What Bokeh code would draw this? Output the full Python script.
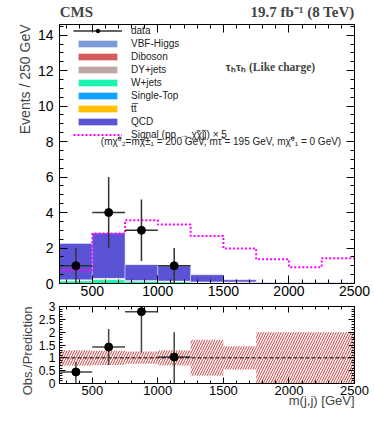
from bokeh.plotting import figure
from bokeh.models import (Range1d, LinearAxis, FixedTicker, Label, Legend, LegendItem,
                          Span, PrintfTickFormatter, Title, Spacer)
from bokeh.layouts import column, row
from bokeh.embed import file_html
from bokeh.resources import INLINE

# ---------------- data ----------------
bin_lo = [250, 500, 750, 1000, 1250, 1500, 1750, 2000, 2250]
bin_hi = [500, 750, 1000, 1250, 1500, 1750, 2000, 2250, 2500]

# backgrounds (stacked, bottom -> top)
wjets     = [0.15, 0.22, 0.14, 0.10, 0.07, 0.03, 0.00, 0.00, 0.00]
diboson   = [0.02, 0.02, 0.01, 0.02, 0.02, 0.06, 0.01, 0.01, 0.01]
dyjets    = [0.02, 0.02, 0.01, 0.01, 0.00, 0.00, 0.00, 0.00, 0.00]
vbfhiggs  = [0.01, 0.01, 0.01, 0.01, 0.00, 0.00, 0.00, 0.00, 0.00]
singletop = [0.00, 0.01, 0.00, 0.00, 0.00, 0.00, 0.00, 0.00, 0.00]
ttbar     = [0.01, 0.01, 0.00, 0.00, 0.00, 0.00, 0.00, 0.00, 0.00]
qcd       = [2.05, 2.55, 0.89, 0.84, 0.40, 0.12, 0.03, 0.03, 0.03]

# signal x5
signal = [0.74, 2.82, 3.57, 3.32, 2.68, 1.97, 1.36, 0.92, 1.43]

# data
data_x = [375, 625, 875, 1125]
data_y = [1, 4, 3, 1]
data_lo = [0.0, 2.0, 1.27, 0.0]
data_hi = [2.0, 6.0, 4.73, 2.0]
data_xlo = [250, 500, 750, 1000]
data_xhi = [500, 750, 1000, 1250]

# ratio panel
ratio = [0.45, 1.42, 2.80, 1.03]
ratio_lo = [0.0, 0.72, 1.20, 0.0]
ratio_hi = [0.84, 2.12, 3.30, 2.00]
band_lo = [0.69, 0.72, 0.77, 0.70, 0.30, 0.55, 0.00, 0.00, 0.00]
band_hi = [1.30, 1.28, 1.25, 1.30, 1.70, 1.45, 2.00, 2.00, 2.00]

x_ticks = [500, 1000, 1500, 2000, 2500]
y_ticks_main = [0, 2, 4, 6, 8, 10, 12, 14]
y_ticks_ratio = [0, 0.5, 1, 1.5, 2, 2.5, 3]

components = [
    ("W+jets", wjets, "#17f5b0"),
    ("Diboson", diboson, "#d65a5a"),
    ("DY+jets", dyjets, "#bda5a0"),
    ("VBF-Higgs", vbfhiggs, "#7b9bd6"),
    ("Single-Top", singletop, "#0ba4ff"),
    ("tt\u0305", ttbar, "#ffc000"),
    ("QCD", qcd, "#5a53d6"),
]

SANS = "Liberation Sans"
SERIF = "Liberation Serif"

x_major = FixedTicker(ticks=x_ticks, minor_ticks=list(range(300, 2500, 100)))
y_major = FixedTicker(ticks=y_ticks_main, minor_ticks=[i * 0.5 for i in range(0, 30)])
r_major = FixedTicker(ticks=y_ticks_ratio, minor_ticks=[i * 0.1 for i in range(0, 31)])

LEFT_PAD = 10
FIG_W = 374 - LEFT_PAD
BORDER_L = 59 - LEFT_PAD


def style_axis(ax, labels=True, size="14px", standoff=4, tin=8, tmin=4):
    ax.major_tick_in = tin
    ax.major_tick_out = 0
    ax.minor_tick_in = tmin
    ax.minor_tick_out = 0
    ax.axis_line_color = "black"
    ax.major_tick_line_color = "black"
    ax.minor_tick_line_color = "black"
    ax.major_label_text_font = SANS
    ax.major_label_text_color = "black"
    ax.major_label_text_font_size = size if labels else "0px"
    ax.major_label_standoff = standoff if labels else 0


x_range = Range1d(250, 2500)

# ---------------- header (CMS / lumi) ----------------
h = figure(width=FIG_W, height=24, x_range=x_range, y_range=Range1d(0, 24),
           output_backend="svg", toolbar_location=None, min_border=0,
           min_border_left=BORDER_L, min_border_right=20)
h.axis.visible = False
h.xgrid.visible = False
h.ygrid.visible = False
h.outline_line_color = None
h.add_layout(Label(x=252, y=13, text="CMS", text_font=SERIF, text_font_style="bold",
                   text_font_size="15px", text_baseline="middle", text_align="left"))
h.add_layout(Label(x=2500, y=13, text="19.7 fb\u207b\u00b9 (8 TeV)", text_font=SERIF,
                   text_font_style="bold", text_font_size="15px", text_baseline="middle",
                   text_align="right"))

# ---------------- main panel ----------------
p = figure(width=FIG_W, height=276, x_range=x_range, y_range=Range1d(0, 14.6),
           output_backend="svg", toolbar_location=None,
           min_border_left=BORDER_L, min_border_right=20, min_border_top=0, min_border_bottom=17)
p.xgrid.visible = False
p.ygrid.visible = False
p.outline_line_color = "black"
p.outline_line_alpha = 1.0

p.xaxis[0].ticker = x_major
p.yaxis[0].ticker = y_major
style_axis(p.xaxis[0], size="14px", standoff=2)
style_axis(p.yaxis[0], size="14px", standoff=6)
ax_top = LinearAxis(ticker=x_major)
style_axis(ax_top, labels=False)
p.add_layout(ax_top, "above")
ax_right = LinearAxis(ticker=y_major)
style_axis(ax_right, labels=False)
p.add_layout(ax_right, "right")
p.add_layout(Title(text="Events / 250 GeV", align="right", text_font=SANS,
                   text_font_style="normal", text_font_size="14px", standoff=4), "left")

renderers = {}
bottom = [0.0] * len(bin_lo)
for name, vals, col in components:
    top = [b + v for b, v in zip(bottom, vals)]
    r = p.quad(left=bin_lo, right=bin_hi, bottom=bottom, top=top,
               fill_color=col, line_color="white", line_alpha=0.4, line_width=1)
    renderers[name] = r
    bottom = top

# signal step histogram
sig_x = bin_lo + [bin_hi[-1]]
sig_y = signal + [signal[-1]]
r_sig = p.step(x=sig_x, y=sig_y, mode="after", line_color="#ff00ff",
               line_dash="2 2", line_width=2)

# data
r_dx = p.segment(x0=data_xlo, x1=data_xhi, y0=data_y, y1=data_y, line_color="#333333", line_width=1.5)
p.segment(x0=data_x, x1=data_x, y0=data_lo, y1=data_hi, line_color="#333333", line_width=1.5)
r_dp = p.scatter(x=data_x, y=data_y, size=8, fill_color="black", line_color="black")

items = [LegendItem(label="data", renderers=[r_dx, r_dp])]
for name in ["VBF-Higgs", "Diboson", "DY+jets", "W+jets", "Single-Top", "tt\u0305", "QCD"]:
    items.append(LegendItem(label=name, renderers=[renderers[name]]))
items.append(LegendItem(label="Signal (pp \u2192 \u03c7\u0303\u03c7\u0303jj) \u00d7 5", renderers=[r_sig]))

legend = Legend(items=items, location=(14, 142), padding=0, margin=0, spacing=0,
                glyph_width=49, glyph_height=9, label_height=13, label_standoff=9,
                label_text_font=SANS, label_text_font_size="10px", label_text_color="#222222",
                border_line_alpha=0, background_fill_alpha=0)
p.add_layout(legend)

p.add_layout(Label(x=565, y=8.0,
                   text="(m\u03c7\u0303\u2070\u2082=m\u03c7\u0303\u00b1\u2081 = 200 GeV, m\u03c4\u0303 = 195 GeV, m\u03c7\u0303\u2070\u2081 = 0 GeV)",
                   text_font=SANS, text_font_size="10px", text_color="#222222",
                   text_baseline="middle", text_align="left"))

p.add_layout(Label(x=1516, y=12.18, text="\u03c4\u2095\u03c4\u2095 (Like charge)",
                   text_font=SERIF, text_font_style="bold", text_font_size="11.5px",
                   text_baseline="middle", text_align="left"))

# ---------------- ratio panel ----------------
q = figure(width=FIG_W, height=125, x_range=x_range, y_range=Range1d(0, 3),
           output_backend="svg", toolbar_location=None,
           min_border_left=BORDER_L, min_border_right=20, min_border_top=6, min_border_bottom=42)
q.xgrid.visible = False
q.ygrid.visible = False
q.outline_line_color = "black"
q.outline_line_alpha = 1.0
q.xaxis[0].ticker = x_major
q.yaxis[0].ticker = r_major
q.yaxis[0].formatter = PrintfTickFormatter(format="%g")
style_axis(q.xaxis[0], size="13px", standoff=2, tin=6, tmin=3)
style_axis(q.yaxis[0], size="12px", standoff=4, tin=6, tmin=3)
qa_top = LinearAxis(ticker=x_major)
style_axis(qa_top, labels=False, tin=6, tmin=3)
q.add_layout(qa_top, "above")
qa_right = LinearAxis(ticker=r_major)
style_axis(qa_right, labels=False, tin=6, tmin=3)
q.add_layout(qa_right, "right")
q.add_layout(Title(text="Obs./Prediction", align="right", text_font=SANS,
                   text_font_style="normal", text_font_size="13px", standoff=2), "left")
q.add_layout(Title(text="m(j,j) [GeV]", align="right", text_font=SANS,
                   text_font_style="normal", text_font_size="13px", standoff=-14), "below")

q.quad(left=bin_lo, right=bin_hi, bottom=band_lo, top=band_hi, fill_color=None,
       line_color=None, hatch_pattern="/", hatch_color="#c83c3c", hatch_scale=5,
       hatch_weight=1.0)
q.add_layout(Span(location=1, dimension="width", line_color="black", line_dash="4 2",
                  line_width=1))
q.segment(x0=data_xlo, x1=data_xhi, y0=ratio, y1=ratio, line_color="#444444", line_width=1.5)
q.segment(x0=data_x, x1=data_x, y0=ratio_lo, y1=ratio_hi, line_color="#444444", line_width=1.5)
q.scatter(x=data_x, y=ratio, size=8, fill_color="black", line_color="black")

layout = row(Spacer(width=LEFT_PAD, height=425), column(h, p, q, spacing=0), spacing=0)
open("out.html", "w").write(file_html(layout, INLINE))
